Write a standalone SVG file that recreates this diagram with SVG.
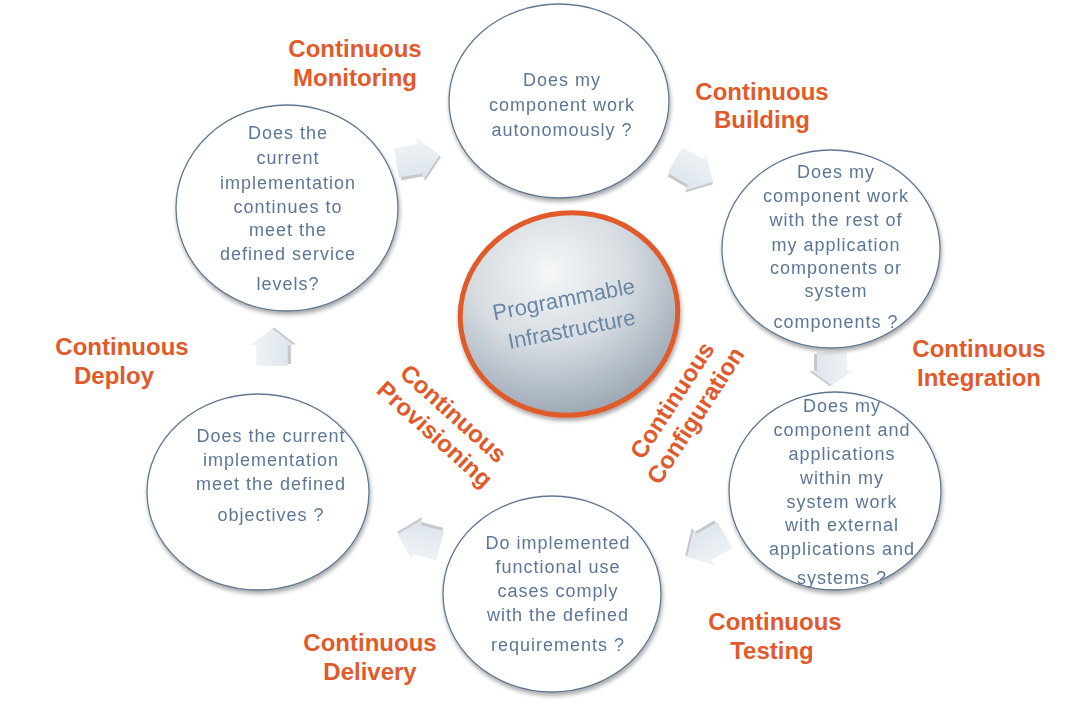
<svg xmlns="http://www.w3.org/2000/svg" width="1069" height="704" viewBox="0 0 1069 704">
<defs>
<style>
.bub{fill:#ffffff;stroke:#5f7892;stroke-width:1.3}
.bt{font-family:"Liberation Sans",Arial,sans-serif;font-size:18px;fill:#5b7796;text-anchor:middle;letter-spacing:1px}
.lab{font-family:"Liberation Sans",Arial,sans-serif;font-size:24px;font-weight:bold;fill:#e05a2b;text-anchor:middle}
.ctr{font-family:"Liberation Sans",Arial,sans-serif;font-size:22px;fill:#6a87a6;text-anchor:middle}
.arr{fill:url(#ag)}
.arrs{fill:#c9c7ce}
</style>
<filter id="sh" x="-20%" y="-20%" width="140%" height="140%">
<feGaussianBlur in="SourceAlpha" stdDeviation="2"/>
<feOffset dx="1" dy="3" result="b"/>
<feComponentTransfer><feFuncA type="linear" slope="0.35"/></feComponentTransfer>
<feMerge><feMergeNode/><feMergeNode in="SourceGraphic"/></feMerge>
</filter>
<radialGradient id="cg" cx="0.45" cy="0.28" r="0.8">
<stop offset="0" stop-color="#f5f7f8"/>
<stop offset="0.45" stop-color="#d6dce1"/>
<stop offset="1" stop-color="#8f9cab"/>
</radialGradient>
<linearGradient id="ag" x1="0" y1="0" x2="0" y2="1">
<stop offset="0" stop-color="#f0f4f7"/>
<stop offset="1" stop-color="#dce4ea"/>
</linearGradient>
<g id="arrow">
<path class="arrs" d="M-20,-13 L3,-13 L3,-19 L23,2 L3,23 L3,18 L-20,18 Z"/>
<path class="arr" d="M-22,-15 L2,-15 L2,-21 L22,0 L2,21 L2,15 L-22,15 Z"/>
</g>
</defs>
<rect width="1069" height="704" fill="#ffffff"/>

<g id="connectors">
<use href="#arrow" transform="translate(418,159) rotate(-10)"/>
<use href="#arrow" transform="translate(694,171) rotate(30)"/>
<use href="#arrow" transform="translate(832,369) rotate(90) scale(0.75 1)"/>
<use href="#arrow" transform="translate(706,546) rotate(150)"/>
<use href="#arrow" transform="translate(419,540) rotate(195)"/>
<use href="#arrow" transform="translate(272,347) rotate(-90) scale(0.85 1.05)"/>
</g>

<g id="node-top" filter="url(#sh)">
<ellipse class="bub" cx="559" cy="101" rx="110" ry="97"/>
<text class="bt" x="562" y="86">Does my</text>
<text class="bt" x="562" y="111">component work</text>
<text class="bt" x="562" y="136">autonomously ?</text>
</g>

<g id="node-right-upper" filter="url(#sh)">
<ellipse class="bub" cx="831" cy="249" rx="109" ry="99"/>
<text class="bt" x="836" y="178">Does my</text>
<text class="bt" x="836" y="202">component work</text>
<text class="bt" x="836" y="226">with the rest of</text>
<text class="bt" x="836" y="251">my application</text>
<text class="bt" x="836" y="274">components or</text>
<text class="bt" x="836" y="297">system</text>
<text class="bt" x="836" y="328">components ?</text>
</g>

<g id="node-right-lower" filter="url(#sh)">
<ellipse class="bub" cx="835" cy="491" rx="106" ry="99"/>
<text class="bt" x="842" y="412">Does my</text>
<text class="bt" x="842" y="436">component and</text>
<text class="bt" x="842" y="460">applications</text>
<text class="bt" x="842" y="484">within my</text>
<text class="bt" x="842" y="508">system work</text>
<text class="bt" x="842" y="531">with external</text>
<text class="bt" x="842" y="555">applications and</text>
<text class="bt" x="842" y="584">systems ?</text>
</g>

<g id="node-bottom" filter="url(#sh)">
<ellipse class="bub" cx="552" cy="594" rx="109" ry="98"/>
<text class="bt" x="558" y="549">Do implemented</text>
<text class="bt" x="558" y="573">functional use</text>
<text class="bt" x="558" y="597">cases comply</text>
<text class="bt" x="558" y="621">with the defined</text>
<text class="bt" x="558" y="651">requirements ?</text>
</g>

<g id="node-left-lower" filter="url(#sh)">
<ellipse class="bub" cx="258" cy="492" rx="111" ry="98"/>
<text class="bt" x="271" y="442">Does the current</text>
<text class="bt" x="271" y="466">implementation</text>
<text class="bt" x="271" y="490">meet the defined</text>
<text class="bt" x="271" y="521">objectives ?</text>
</g>

<g id="node-top-left" filter="url(#sh)">
<ellipse class="bub" cx="287" cy="208" rx="111" ry="103"/>
<text class="bt" x="288" y="139">Does the</text>
<text class="bt" x="288" y="164">current</text>
<text class="bt" x="288" y="189">implementation</text>
<text class="bt" x="288" y="213">continues to</text>
<text class="bt" x="288" y="236">meet the</text>
<text class="bt" x="288" y="260">defined service</text>
<text class="bt" x="288" y="290">levels?</text>
</g>

<g id="node-center" filter="url(#sh)">
<ellipse cx="569" cy="314" rx="109" ry="101" fill="url(#cg)" stroke="#e05a2b" stroke-width="5" transform="rotate(-10 569 314)"/>
<g transform="rotate(-11 569 316)">
<text class="ctr" x="567" y="306">Programmable</text>
<text class="ctr" x="569" y="337">Infrastructure</text>
</g>
</g>

<g id="labels">
<text class="lab" x="355" y="57">Continuous</text>
<text class="lab" x="355" y="86">Monitoring</text>
<text class="lab" x="762" y="100">Continuous</text>
<text class="lab" x="762" y="128">Building</text>
<text class="lab" x="979" y="357">Continuous</text>
<text class="lab" x="979" y="386">Integration</text>
<text class="lab" x="775" y="630">Continuous</text>
<text class="lab" x="772" y="659">Testing</text>
<text class="lab" x="370" y="651">Continuous</text>
<text class="lab" x="370" y="680">Delivery</text>
<text class="lab" x="122" y="355">Continuous</text>
<text class="lab" x="114" y="384">Deploy</text>
<g transform="translate(444,424) rotate(42)">
<text class="lab" x="0" y="-6">Continuous</text>
<text class="lab" x="0" y="22">Provisioning</text>
</g>
<g transform="translate(684,408) rotate(-57)">
<text class="lab" x="0" y="-6">Continuous</text>
<text class="lab" x="0" y="22">Configuration</text>
</g>
</g>
</svg>
